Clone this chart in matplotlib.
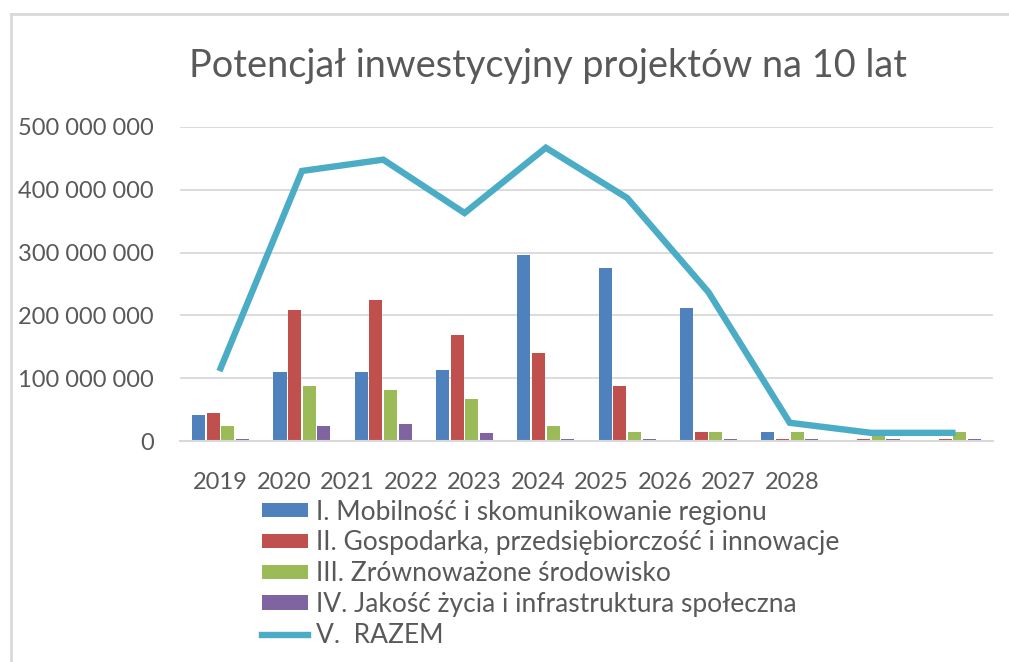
import numpy as np
import matplotlib
matplotlib.use("Agg")
from matplotlib import pyplot as plt
from matplotlib.lines import Line2D

plt.rcParams['font.family'] = ['Lato', 'DejaVu Sans']

years = ["2019", "2020", "2021", "2022", "2023", "2024", "2025", "2026", "2027", "2028"]

# values in PLN
mobilnosc = [41e6, 110e6, 110e6, 113e6, 296e6, 275e6, 212e6, 15e6, 0, 0]
gospodarka = [45e6, 209e6, 224e6, 169e6, 140e6, 88e6, 14e6, 3e6, 3e6, 3e6]
srodowisko = [24e6, 88e6, 81e6, 67e6, 24e6, 15e6, 14e6, 14e6, 13e6, 14e6]
jakosc = [3e6, 24e6, 27e6, 13e6, 3e6, 3e6, 3e6, 3e6, 3e6, 3e6]
razem = [116e6, 430e6, 448e6, 363e6, 467e6, 387e6, 237e6, 29e6, 13e6, 13e6]

labels = ["I. Mobilność i skomunikowanie regionu",
          "II. Gospodarka, przedsiębiorczość i innowacje",
          "III. Zrównoważone środowisko",
          "IV. Jakość życia i infrastruktura społeczna",
          "V.  RAZEM"]
colors = ["#4F81BD", "#C0504D", "#9BBB59", "#8064A2", "#4BACC6"]
txt = "#595959"
grid = "#D9D9D9"

fig = plt.figure(figsize=(10.09, 6.62), dpi=100)
ax = fig.add_axes([180/1009, 1 - 441/662, (993 - 180)/1009, (441 - 127)/662])

x = np.arange(len(years))
w = 0.16
step = 0.18
series = [mobilnosc, gospodarka, srodowisko, jakosc]
for i, s in enumerate(series):
    ax.bar(x + (i - 1.5) * step, s, width=w, color=colors[i], label=labels[i], zorder=2)
ax.plot(x, razem, color=colors[4], linewidth=4.6, label=labels[4], zorder=3,
        solid_joinstyle='miter')

ax.set_xlim(-0.5, len(years) - 0.5)
ax.set_ylim(0, 500e6)
ax.set_yticks(np.arange(0, 500e6 + 1, 100e6))
ax.yaxis.set_major_formatter(plt.FuncFormatter(lambda v, p: "{:,.0f}".format(v).replace(",", " ")))
ax.grid(axis='y', color=grid, linewidth=1.3, zorder=0)
ax.set_axisbelow(True)
for sp in ["top", "right", "left"]:
    ax.spines[sp].set_visible(False)
ax.spines["bottom"].set_color(grid)
ax.spines["bottom"].set_linewidth(1.5)
ax.tick_params(axis='both', length=0, labelsize=17, labelcolor=txt)
ax.tick_params(axis='y', pad=19)
ax.tick_params(axis='x', pad=22)

# Excel squeezed the category labels to the left
ax.set_xticks(x * 0.781)
ax.set_xticklabels(years)

fig.text(548/1009, 1 - 66/662, "Potencjał inwestycyjny projektów na 10 lat",
         ha='center', va='center', fontsize=27.3, color=txt)

h, l = ax.get_legend_handles_labels()
order = [1, 2, 3, 4, 0]
fig.legend([h[i] for i in order], [l[i] for i in order], loc='upper left',
           bbox_to_anchor=(251/1009, 1 - 489/662), frameon=False, fontsize=19,
           handlelength=1.75, handleheight=0.45, handletextpad=0.3,
           labelspacing=0.22, labelcolor=txt, borderaxespad=0)

# chart frame (cropped)
fig.add_artist(Line2D([11/1009, 11/1009], [0, 1 - 14/662], color=grid, linewidth=2,
                      transform=fig.transFigure))
fig.add_artist(Line2D([11/1009, 1], [1 - 14/662, 1 - 14/662], color=grid, linewidth=2,
                      transform=fig.transFigure))

fig.savefig("out.png", dpi=100)
